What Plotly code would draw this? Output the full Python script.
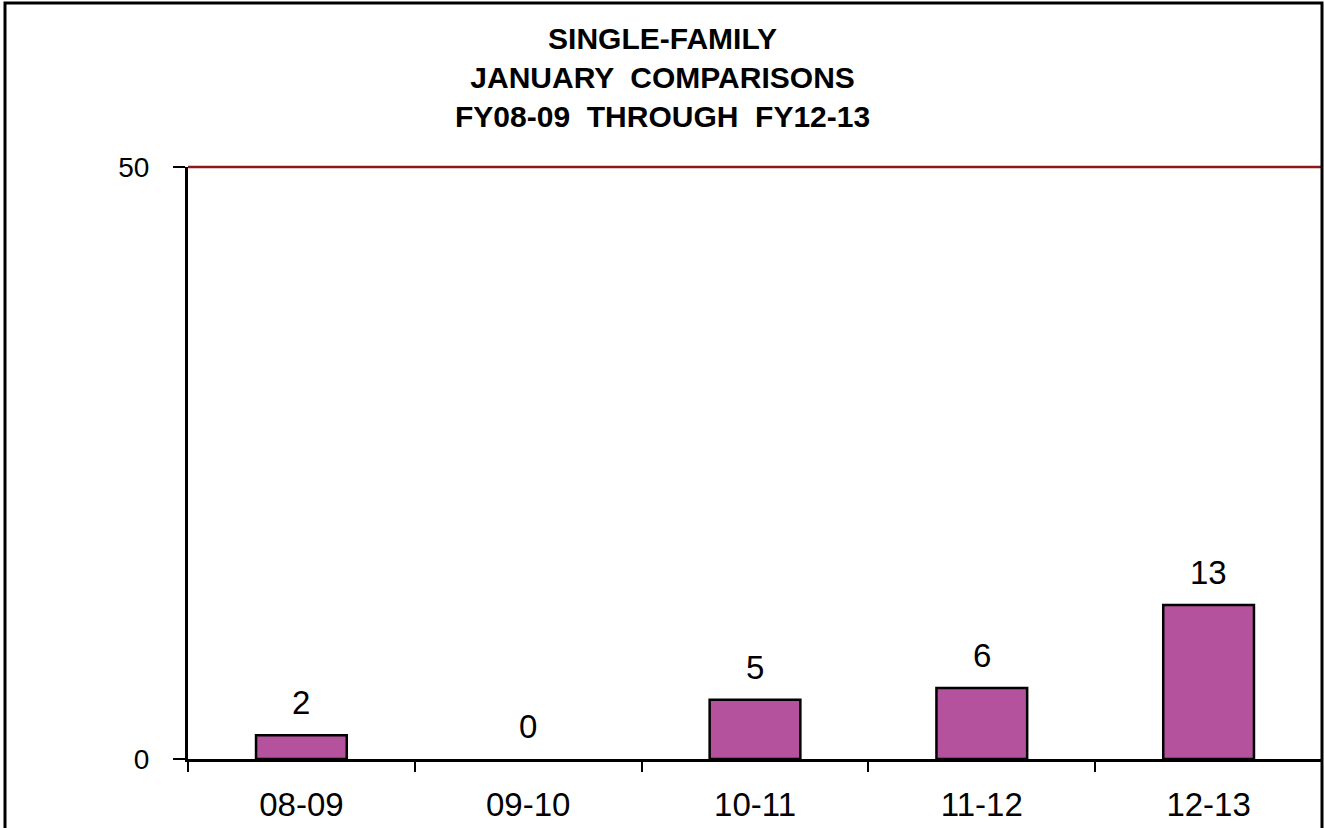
import plotly.graph_objects as go

categories = ["08-09", "09-10", "10-11", "11-12", "12-13"]
values = [2, 0, 5, 6, 13]
y_ticks = [0, 50]
title_lines = ["SINGLE-FAMILY", "JANUARY  COMPARISONS", "FY08-09  THROUGH  FY12-13"]

FONT = "Liberation Sans, Arial, sans-serif"
BAR_COLOR = "#B4529E"

W, H = 1324, 828
L, R, T, B = 188, 2, 167, 69
plot_w = W - L - R
plot_h = H - T - B


def px_to_paper_x(px):
    return (px - L) / plot_w


def px_to_paper_y(py):
    return (H - B - py) / plot_h


fig = go.Figure()
fig.add_trace(go.Bar(
    x=categories,
    y=values,
    width=0.4,
    marker=dict(color=BAR_COLOR,
                line=dict(color="black", width=[2.5 if v else 0 for v in values])),
    hoverinfo="skip",
))

# value labels above bars
for c, v in zip(categories, values):
    fig.add_annotation(
        x=c, y=v, xref="x", yref="y",
        text=str(v), showarrow=False,
        yanchor="bottom", yshift=12,
        font=dict(family=FONT, size=33, color="black"),
    )

# title (three lines)
fig.add_annotation(
    x=px_to_paper_x(662), y=px_to_paper_y(77), xref="paper", yref="paper",
    text="<br>".join("<b>" + s + "</b>" for s in title_lines), showarrow=False,
    xanchor="center", yanchor="middle", align="center",
    font=dict(family=FONT, size=30, color="black"),
)

# top reference line at the axis maximum (top edge of plot area)
fig.add_shape(
    type="line", xref="paper", yref="paper",
    x0=0, x1=1, y0=1, y1=1,
    line=dict(color="#8B1A1A", width=2.5),
)

# outer frame
fig.add_shape(
    type="rect", xref="paper", yref="paper",
    x0=px_to_paper_x(5), x1=px_to_paper_x(1322),
    y0=px_to_paper_y(840), y1=px_to_paper_y(3),
    line=dict(color="black", width=3), fillcolor="rgba(0,0,0,0)",
    layer="above",
)

fig.update_layout(
    width=W, height=H,
    margin=dict(l=L, r=R, t=T, b=B, pad=0),
    paper_bgcolor="white", plot_bgcolor="white",
    showlegend=False,
    font=dict(family=FONT, color="black"),
)

fig.update_xaxes(
    type="category",
    showline=True, linecolor="black", linewidth=3,
    ticks="outside", tickson="boundaries", ticklen=10, tickwidth=2, tickcolor="black",
    tickfont=dict(family=FONT, size=33, color="black"),
    showgrid=False, zeroline=False,
    ticklabelstandoff=14,
)

fig.update_yaxes(
    range=[0, 50],
    tickvals=y_ticks,
    ticktext=[str(t) for t in y_ticks],
    showline=True, linecolor="black", linewidth=3,
    ticks="outside", ticklen=12, tickwidth=2, tickcolor="black",
    tickfont=dict(family=FONT, size=28, color="black"),
    showgrid=False,
    zeroline=False,
    ticklabelstandoff=18,
)

fig.write_html("out.html", config={"displayModeBar": False},
               post_script="document.body.style.margin='0';")
